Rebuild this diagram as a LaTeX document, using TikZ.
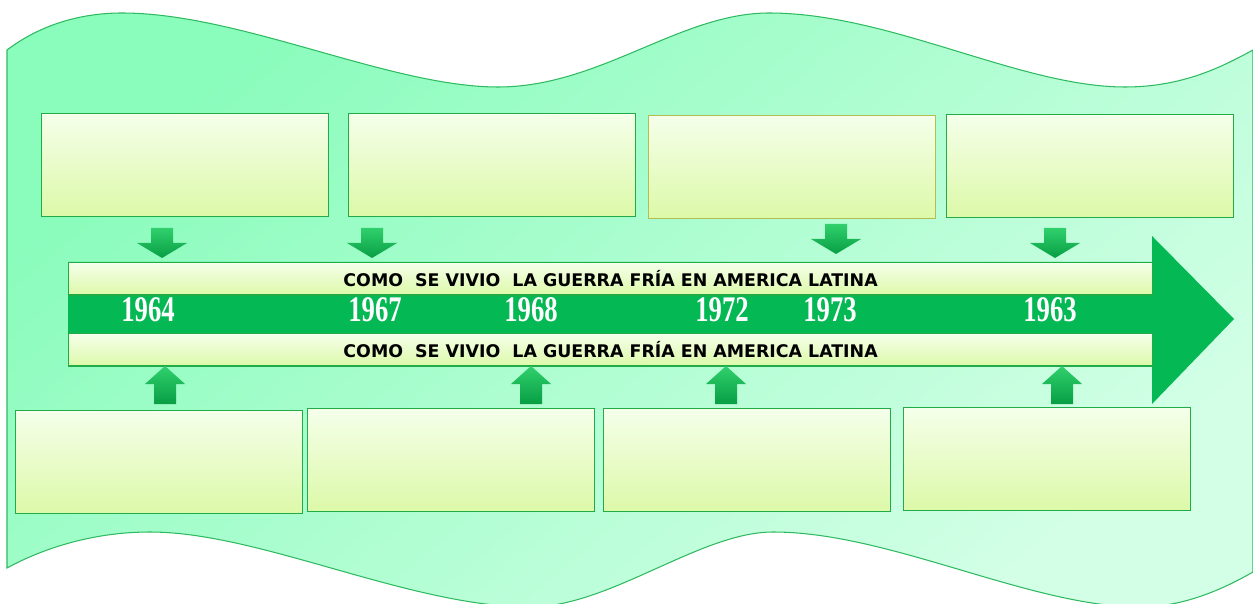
\documentclass[tikz,border=0pt]{standalone}
\usepackage{fontspec}
\newfontfamily\barfont{DejaVu Sans}
\newfontfamily\yearfont{Liberation Serif}
\definecolor{wavetop}{RGB}{138,252,188}
\definecolor{wavebot}{RGB}{210,255,230}
\definecolor{waveline}{RGB}{46,186,96}
\definecolor{boxline}{RGB}{34,172,72}
\definecolor{oliveline}{RGB}{178,190,82}
\definecolor{boxtop}{RGB}{245,255,234}
\definecolor{boxbot}{RGB}{220,249,168}
\definecolor{bandgreen}{RGB}{4,184,84}
\definecolor{arrlight}{RGB}{48,208,108}
\definecolor{arrdark}{RGB}{8,158,68}

\tikzset{
  infobox/.style={draw=boxline, line width=0.8pt, top color=boxtop, bottom color=boxbot,
    minimum width=5.74cm, minimum height=2.06cm, anchor=north west, inner sep=0pt},
  timebar/.style={draw=boxline, line width=0.8pt, top color=boxtop, bottom color=boxbot,
    minimum width=21.68cm, minimum height=0.65cm, anchor=north west, inner sep=0pt,
    font=\barfont\bfseries\fontsize{9.9}{11}\selectfont},
  yeartext/.style={text=white, inner sep=0pt,
    font=\yearfont\bfseries\fontsize{20.5}{21}\selectfont},
  blockfill/.style={top color=arrlight, bottom color=arrdark},
  dnarrow/.pic={\path[blockfill] (-11,0) -- (11,0) -- (11,15) -- (25,15) -- (0,30)
    -- (-25,15) -- (-11,15) -- cycle;},
  uparrow/.pic={\path[blockfill] (0,0) -- (20,18) -- (11,18) -- (11,38) -- (-11,38)
    -- (-11,18) -- (-20,18) -- cycle;}
}

\begin{document}
\begin{tikzpicture}[x=0.02cm, y=-0.02cm]
    \useasboundingbox (0,0) rectangle (1253,604);
    % fondo ondulado
    \path[draw=waveline, line width=0.6pt, left color=wavetop, right color=wavebot, shading angle=40]
        (7,50) .. controls (40,25) and (80,13) .. (122,13)
        .. controls (240,13) and (390,87) .. (498,87)
        .. controls (600,87) and (680,13) .. (769,13)
        .. controls (890,13) and (1020,87) .. (1125,87)
        .. controls (1185,87) and (1225,65) .. (1253,50)
        -- (1253,572)
        .. controls (1225,588) and (1185,607) .. (1140,607)
        .. controls (1030,607) and (890,532) .. (773,532)
        .. controls (700,532) and (610,607) .. (530,607)
        .. controls (410,607) and (260,532) .. (150,532)
        .. controls (90,532) and (40,550) .. (7,568) -- cycle;

    % flecha de la linea de tiempo
    \fill[bandgreen] (68,262) -- (1152,262) -- (1152,236) -- (1234,319) -- (1152,404)
        -- (1152,366) -- (68,366) -- cycle;
    \node[timebar] at (68,262) (bartop) {COMO\ \ SE VIVIO\ \ LA GUERRA FRÍA EN AMERICA LATINA};
    \node[timebar] at (68,333) (barbot) {COMO\ \ SE VIVIO\ \ LA GUERRA FRÍA EN AMERICA LATINA};

    % años
    \node[yeartext] at (148,310) (y1964) {\scalebox{0.74}[1]{1964}};
    \node[yeartext] at (375,310) (y1967) {\scalebox{0.74}[1]{1967}};
    \node[yeartext] at (531,310) (y1968) {\scalebox{0.74}[1]{1968}};
    \node[yeartext] at (722,310) (y1972) {\scalebox{0.74}[1]{1972}};
    \node[yeartext] at (830,310) (y1973) {\scalebox{0.74}[1]{1973}};
    \node[yeartext] at (1050,310) (y1963) {\scalebox{0.74}[1]{1963}};

    % cuadros de arriba
    \node[infobox] at (41,113) (t1) {};
    \node[infobox] at (348,113) (t2) {};
    \node[infobox, draw=oliveline] at (648,115) (t3) {};
    \node[infobox] at (946,114) (t4) {};

    % cuadros de abajo
    \node[infobox] at (15,410) (b1) {};
    \node[infobox] at (307,408) (b2) {};
    \node[infobox] at (603,408) (b3) {};
    \node[infobox] at (903,407) (b4) {};

    % flechas
    \pic at (162,228) {dnarrow};
    \pic at (372,228) {dnarrow};
    \pic at (836,224) {dnarrow};
    \pic at (1055,228) {dnarrow};
    \pic at (165,366) {uparrow};
    \pic at (531,366) {uparrow};
    \pic at (726,366) {uparrow};
    \pic at (1062,366) {uparrow};
\end{tikzpicture}
\end{document}
